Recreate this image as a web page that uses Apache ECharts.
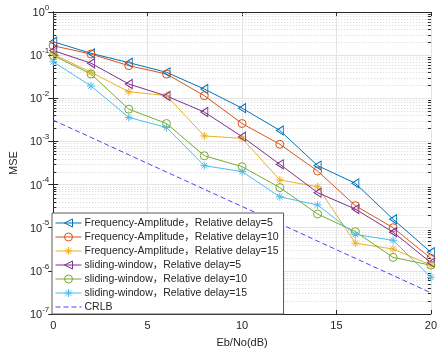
<!DOCTYPE html>
<html>
<head>
<meta charset="utf-8">
<script src="https://cdn.jsdelivr.net/npm/echarts@6/dist/echarts.min.js"></script>
<style>
  html, body { margin: 0; padding: 0; background: #fff; }
  #chart { width: 440px; height: 355px; }
</style>
</head>
<body>
<div id="chart"></div>
<script>
// Eb/No sweep (dB)
const snr = [0, 2, 4, 6, 8, 10, 12, 14, 16, 18, 20];

// MSE of each estimator
const faDelay5  = [0.205, 0.11, 0.067, 0.04, 0.0164, 0.0059, 0.0018, 2.75e-4, 1.07e-4, 1.57e-5, 2.7e-6];
const faDelay10 = [0.165, 0.106, 0.057, 0.0365, 0.0115, 0.0026, 8.6e-4, 2.06e-4, 3.24e-5, 1.0e-5, 1.95e-6];
const faDelay15 = [0.105, 0.04, 0.0142, 0.0115, 0.00134, 0.00118, 1.28e-4, 8.9e-5, 4.4e-6, 3.2e-6, 1.37e-6];
const swDelay5  = [0.128, 0.065, 0.0214, 0.0113, 0.0048, 0.00129, 2.95e-4, 6.5e-5, 2.7e-5, 7.9e-6, 1.55e-6];
const swDelay10 = [0.098, 0.0365, 0.0056, 0.0026, 4.66e-4, 2.6e-4, 8.5e-5, 2.08e-5, 8.1e-6, 2.05e-6, 1.35e-6];
const swDelay15 = [0.07, 0.0193, 0.0036, 0.0021, 2.74e-4, 2.0e-4, 5.2e-5, 3.37e-5, 7.0e-6, 5.1e-6, 7.1e-7];
const crlb      = [3.1e-3, 1.24e-3, 4.9e-4, 1.95e-4, 7.8e-5, 3.1e-5, 1.24e-5, 4.9e-6, 1.95e-6, 7.8e-7, 3.1e-7];

const seriesNames = [
  'Frequency-Amplitude，Relative delay=5',
  'Frequency-Amplitude，Relative delay=10',
  'Frequency-Amplitude，Relative delay=15',
  'sliding-window，Relative delay=5',
  'sliding-window，Relative delay=10',
  'sliding-window，Relative delay=15',
  'CRLB'
];
const seriesColors = ['#0072BD', '#D95319', '#EDB120', '#7E2F8E', '#77AC30', '#4DBEEE', '#4646FF'];

const xTicks = [0, 5, 10, 15, 20];
const yMinExp = -7, yMaxExp = 0;

const FONT = '"Liberation Sans", Arial, "Noto Sans CJK SC", sans-serif';
const INK = '#262626';
const CLEAR = 'rgba(0,0,0,0)';

// marker shapes
const LEFT_TRI = 'path://M0,5L10,0L10,10Z';
const STAR = 'path://M5,0L5,10M0,5L10,5M1.5,1.5L8.5,8.5M1.5,8.5L8.5,1.5';

function pairs(vals) { return snr.map((x, i) => [x, vals[i]]); }

function markerSeries(idx, vals, symbol, size) {
  const color = seriesColors[idx];
  return {
    name: seriesNames[idx],
    type: 'line',
    data: pairs(vals),
    symbol: symbol,
    symbolSize: size,
    showAllSymbol: true,
    z: 3,
    lineStyle: { color: color, width: 1 },
    itemStyle: { color: CLEAR, borderColor: color, borderWidth: 1 },
    emphasis: { disabled: true }
  };
}

// legend entries: hollow markers on thin lines, plain dashed line for the bound
const legendItems = seriesNames.map((name, i) => {
  const c = seriesColors[i];
  if (name === 'CRLB') {
    return {
      name: name,
      itemStyle: { color: CLEAR, borderColor: CLEAR, borderWidth: 0 },
      lineStyle: { color: c, width: 1, type: [5, 3] }
    };
  }
  return {
    name: name,
    itemStyle: { color: CLEAR, borderColor: c, borderWidth: 1 },
    lineStyle: { color: c, width: 1, type: 'solid' }
  };
});

// minor decade subdivisions (2..9) for the log grid
const minorVals = [];
for (let e = yMinExp; e < yMaxExp; e++) {
  for (let m = 2; m <= 9; m++) minorVals.push([0, m * Math.pow(10, e)]);
}

function renderMinor(params, api) {
  const cs = params.coordSys;
  const y = Math.round(api.coord([0, api.value(1)])[1]) + 0.5;
  return {
    type: 'group',
    children: [
      { type: 'line', shape: { x1: cs.x, y1: y, x2: cs.x + cs.width, y2: y },
        style: { stroke: '#d4d4d4', lineWidth: 1, lineDash: [1, 2] } },
      { type: 'line', shape: { x1: cs.x, y1: y, x2: cs.x + 3, y2: y },
        style: { stroke: INK, lineWidth: 1 } },
      { type: 'line', shape: { x1: cs.x + cs.width - 3, y1: y, x2: cs.x + cs.width, y2: y },
        style: { stroke: INK, lineWidth: 1 } }
    ]
  };
}

function expLabel(v) {
  const e = Math.round(Math.log10(v));
  return '{b|10}{s|' + e + '}';
}

const chart = echarts.init(document.getElementById('chart'), null, { renderer: 'canvas' });

chart.setOption({
  backgroundColor: '#fff',
  animation: false,
  textStyle: { fontFamily: FONT },
  grid: { left: 52, right: 6, top: 12, bottom: 41, containLabel: false },
  xAxis: [
    {
      type: 'value', min: xTicks[0], max: xTicks[xTicks.length - 1], interval: 5,
      position: 'bottom',
      name: 'Eb/No(dB)', nameLocation: 'middle', nameGap: 23,
      nameTextStyle: { color: INK, fontSize: 11, fontFamily: FONT },
      axisLine: { show: true, lineStyle: { color: INK, width: 1 } },
      axisTick: { show: true, inside: true, length: 4, lineStyle: { color: INK } },
      axisLabel: { color: INK, fontSize: 11, fontFamily: FONT, margin: 6 },
      splitLine: { show: true, lineStyle: { color: '#e4e4e4', width: 1 } }
    },
    {
      type: 'value', min: xTicks[0], max: xTicks[xTicks.length - 1], interval: 5,
      position: 'top',
      axisLine: { show: true, lineStyle: { color: INK, width: 1 } },
      axisTick: { show: true, inside: true, length: 4, lineStyle: { color: INK } },
      axisLabel: { show: false },
      splitLine: { show: false }
    }
  ],
  yAxis: [
    {
      type: 'log', logBase: 10, min: Math.pow(10, yMinExp), max: Math.pow(10, yMaxExp), interval: 1,
      position: 'left',
      name: 'MSE', nameLocation: 'middle', nameGap: 31, nameRotate: 90,
      nameTextStyle: { color: INK, fontSize: 11, fontFamily: FONT },
      axisLine: { show: true, lineStyle: { color: INK, width: 1 } },
      axisTick: { show: true, inside: true, length: 5, lineStyle: { color: INK } },
      axisLabel: {
        color: INK, margin: 4, formatter: expLabel,
        rich: {
          b: { fontSize: 11, fontFamily: FONT, color: INK, verticalAlign: 'bottom', lineHeight: 13 },
          s: { fontSize: 8, fontFamily: FONT, color: INK, verticalAlign: 'bottom', lineHeight: 8, padding: [0, 0, 7, 0] }
        }
      },
      splitLine: { show: true, lineStyle: { color: '#e4e4e4', width: 1 } }
    },
    {
      type: 'log', logBase: 10, min: Math.pow(10, yMinExp), max: Math.pow(10, yMaxExp), interval: 1,
      position: 'right',
      axisLine: { show: true, lineStyle: { color: INK, width: 1 } },
      axisTick: { show: true, inside: true, length: 5, lineStyle: { color: INK } },
      axisLabel: { show: false },
      splitLine: { show: false }
    }
  ],
  legend: {
    orient: 'vertical',
    left: 52, top: 213,
    padding: [4, 5, 1, 3],
    backgroundColor: '#fff',
    borderColor: '#5a5a5a', borderWidth: 1, borderRadius: 0,
    itemWidth: 26, itemHeight: 10, itemGap: 2,
    textStyle: { color: INK, fontSize: 10.5, fontFamily: FONT, lineHeight: 12, padding: [0, 0, 0, -2] },
    data: legendItems,
    selectedMode: false,
    z: 10
  },
  series: [
    {
      name: 'minor-grid', type: 'custom', data: minorVals, renderItem: renderMinor,
      silent: true, z: 1, xAxisIndex: 0, yAxisIndex: 0, encode: { x: 0, y: 1 }
    },
    markerSeries(0, faDelay5, LEFT_TRI, [7, 9]),
    markerSeries(1, faDelay10, 'circle', 8),
    markerSeries(2, faDelay15, STAR, 8),
    markerSeries(3, swDelay5, LEFT_TRI, [7, 9]),
    markerSeries(4, swDelay10, 'circle', 8),
    markerSeries(5, swDelay15, STAR, 8),
    {
      name: seriesNames[6], type: 'line', data: pairs(crlb),
      symbol: 'none', z: 3,
      lineStyle: { color: seriesColors[6], width: 1, type: [5, 3] },
      itemStyle: { color: seriesColors[6] },
      emphasis: { disabled: true }
    }
  ]
});
</script>
</body>
</html>
